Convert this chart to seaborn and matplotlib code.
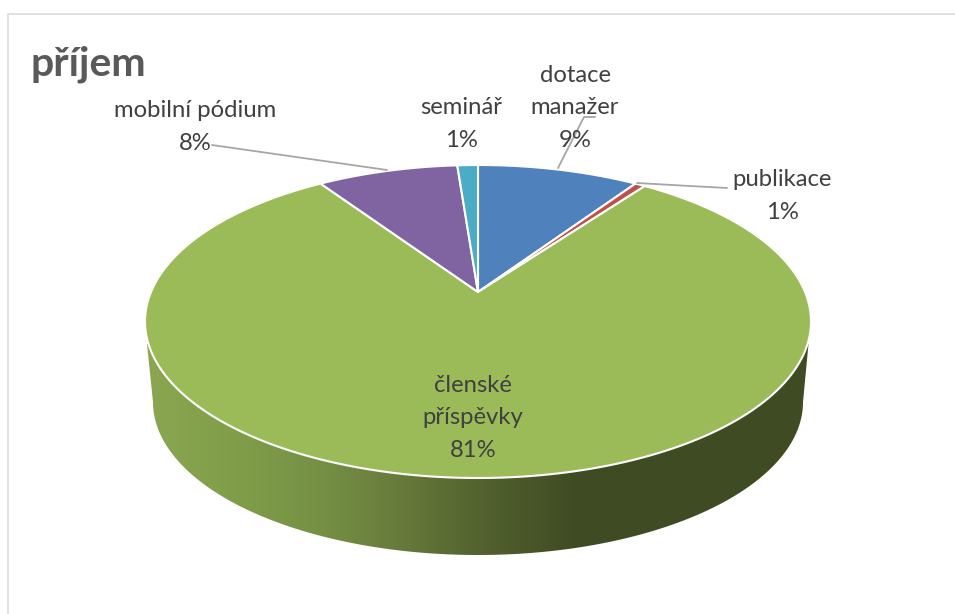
# -*- coding: utf-8 -*-
"""Pie chart 'prijem' drawn with a tilted 3D look. Saves out.png."""
import numpy as np
import matplotlib
matplotlib.use("Agg")
import matplotlib.pyplot as plt
import seaborn as sns
from matplotlib.colors import LinearSegmentedColormap
from matplotlib.patches import Polygon

categories = ['dotace\nmanažer', 'publikace', 'členské\npříspěvky', 'mobilní pódium', 'seminář']
values = [9.4, 0.6, 80.6, 8.2, 1.2]
slice_colors = ['#4F81BD', '#C0504D', '#9BBB59', '#8064A2', '#4BACC6']
title = 'příjem'

# pixel geometry of the tilted disc
CX, CY = 478, 321.5
SEMI_X, SEMI_Y = 333, 156.5
APEX_SHIFT = 29.5


def warp(x, y):
    """Perspective map from the unit circle to the ellipse in pixels."""
    c = 2 * APEX_SHIFT / (2 * SEMI_Y)
    d = SEMI_X * np.sqrt(1 - c ** 2)
    w = 1 + c * y
    return CX + d * x / w, CY - (SEMI_Y * y + APEX_SHIFT) / w


def main():
    sns.set_theme(style="white")
    plt.rcParams['font.family'] = ['Lato', 'DejaVu Sans']

    fig = plt.figure(figsize=(9.55, 6.14), dpi=100)
    ax = fig.add_axes([0, 0, 1, 1])
    palette = sns.color_palette(slice_colors)

    wedges, _ = ax.pie(values, colors=palette, startangle=90, counterclock=False)

    # swap the flat wedges for warped ones
    for w, col in zip(wedges, palette):
        t = np.radians(np.linspace(w.theta1, w.theta2, 240))
        x, y = warp(np.r_[0, np.cos(t)], np.r_[0, np.sin(t)])
        ax.add_patch(Polygon(np.c_[x, y], closed=True, facecolor=col,
                             edgecolor='white', linewidth=1.5, joinstyle='round', zorder=3))
        w.remove()

    # side wall
    t = np.radians(np.linspace(180, 0, 300))
    wall_x = np.r_[147, 478 + 325 * np.cos(t), 808.5]
    wall_y = np.r_[344, 402 + 153 * np.sin(t), 344]
    wall = Polygon(np.c_[wall_x, wall_y], closed=True, facecolor='none', edgecolor='none')
    ax.add_patch(wall)
    cmap = LinearSegmentedColormap.from_list('wall', [
        (0.00, '#8AA650'), (0.15, '#7F9C49'), (0.27, '#748F44'), (0.39, '#66783A'),
        (0.52, '#505F2D'), (0.65, '#3F4B23'), (1.00, '#3F4B23')])
    img = ax.imshow(np.linspace(0, 1, 400)[None, :], cmap=cmap, aspect='auto',
                    extent=(147, 809, 560, 340), zorder=2)
    img.set_clip_path(wall)

    # frame
    ax.plot([7.5, 7.5, 955], [614, 13.5, 13.5], color='#D9D9D9', lw=1.1, zorder=1)

    # leader lines
    leader = dict(color='#A6A6A6', lw=1.3, zorder=4)
    ax.plot([212, 387], [145, 170], **leader)
    ax.plot([558, 584, 595], [168, 117, 117], **leader)
    ax.plot([637, 690, 727], [183, 186, 188], **leader)

    # labels
    label_pos = [(575, 108), (782, 196), (473, 418), (195, 127), (461, 124)]
    for name, v, (lx, ly) in zip(categories, values, label_pos):
        ax.text(lx, ly, f"{name}\n{round(v):d}%", ha='center', va='center', ma='center',
                fontsize=17.2, color='#404040', linespacing=1.65, zorder=5)

    ax.text(30, 64, title, ha='left', va='center', fontsize=29.5, fontweight='bold',
            color='#595959', zorder=5)

    ax.set_aspect('auto')
    ax.set_xlim(0, 955)
    ax.set_ylim(614, 0)
    ax.axis('off')
    fig.savefig('out.png', dpi=100, facecolor='white')
    plt.close(fig)


if __name__ == "__main__":
    main()
